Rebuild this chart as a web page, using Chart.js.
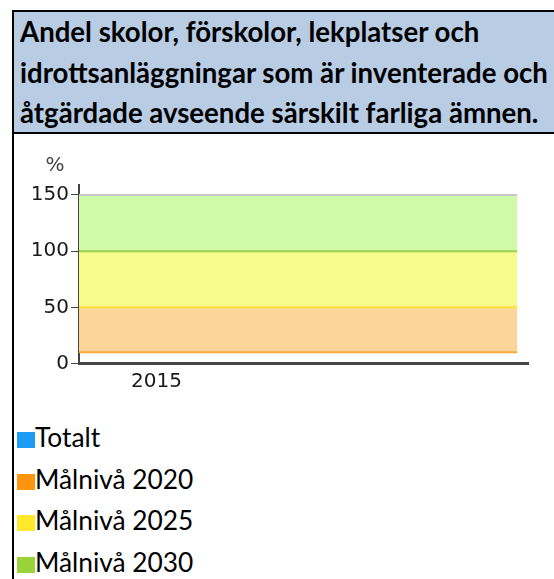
<!DOCTYPE html>
<html>
<head>
<meta charset="utf-8">
<script src="https://cdn.jsdelivr.net/npm/chart.js@4"></script>
<style>
  html, body { margin: 0; padding: 0; background: #fff; }
  body { width: 554px; height: 579px; position: relative; overflow: hidden; }
  #frame { position: absolute; left: 12px; top: 10px; width: 544px; height: 580px;
           border-left: 2px solid #000; border-top: 2px solid #000; }
  #title { position: absolute; left: 0; top: 0; width: 539px; height: 120px;
           background: #B8CCE4; border-bottom: 2px solid #000; border-right: 1px solid #333;
           font-family: Lato, sans-serif; font-weight: bold; font-size: 27.6px; line-height: 40.5px;
           padding: 0 0 0 6px; box-sizing: content-box; color: #000; }
  #title div { white-space: nowrap; }
  #chartBox { position: absolute; left: 0; top: 124px; width: 540px; height: 270px; }
  #legend { position: absolute; left: 3px; top: 405px; font-family: Lato, sans-serif; font-size: 26.3px; color: #000; }
  .li { height: 41.5px; line-height: 41.5px; white-space: nowrap; }
  .sw { display: inline-block; width: 18px; height: 16px; vertical-align: -1px; }
</style>
</head>
<body>
<div id="frame">
  <div id="title"></div>
  <div id="chartBox"><canvas id="c" width="540" height="270"></canvas></div>
  <div id="legend"></div>
</div>
<script>
const titleLines = ['Andel skolor, förskolor, lekplatser och', 'idrottsanläggningar som är inventerade och', 'åtgärdade avseende särskilt farliga ämnen.'];
const years = [2015];
const totalt = [];
const seriesNames = ['Totalt', 'Målnivå 2020', 'Målnivå 2025', 'Målnivå 2030'];
const legendColors = ['#1E9BF5', '#FF9410', '#FFE92A', '#9AD23A'];
const bandLow = 10;
const bandTops = [50, 100, 150];
const bandFills = ['#FDD59B', '#F5FC8C', '#CFFAA8'];
const bandLines = ['#F9A83A', '#FFE13A', '#9BD04F', '#C9C9C9'];
const bandYears = [2014.5, 2017.33];
const yTicks = [0, 50, 100, 150];
const yUnit = '%';

document.getElementById('title').innerHTML = titleLines.map(t => '<div>' + t + '</div>').join('');

const pts = v => bandYears.map(x => ({x: x, y: v}));
const datasets = [
  { label: seriesNames[0], data: totalt, borderColor: legendColors[0], backgroundColor: legendColors[0], pointRadius: 0 },
  { label: '_base', data: pts(bandLow), borderColor: bandLines[0], borderWidth: 2, pointRadius: 0, fill: false }
];
bandTops.forEach((v, i) => datasets.push({
  label: seriesNames[i + 1], data: pts(v), borderColor: bandLines[i + 1], borderWidth: 2,
  backgroundColor: bandFills[i], pointRadius: 0, fill: '-1'
}));

const unitPlugin = {
  id: 'unit',
  afterDraw(chart) {
    const ctx = chart.ctx, a = chart.chartArea;
    ctx.save();
    ctx.font = '20px "DejaVu Sans"';
    ctx.fillStyle = '#444';
    ctx.textAlign = 'center';
    ctx.textBaseline = 'middle';
    ctx.fillText(yUnit, a.left - 24, a.top - 19);
    ctx.restore();
  }
};

new Chart(document.getElementById('c'), {
  type: 'line',
  data: { datasets },
  options: {
    responsive: false,
    animation: false,
    events: [],
    layout: { padding: { top: 49, right: 26, left: 0, bottom: 0 } },
    plugins: { legend: { display: false }, tooltip: { enabled: false }, title: { display: false } },
    scales: {
      x: {
        type: 'linear', min: bandYears[0], max: 2017.4,
        afterBuildTicks: s => { s.ticks = years.map(v => ({ value: v })); },
        ticks: { callback: v => String(v), font: { family: 'DejaVu Sans', size: 20 }, color: '#1a1a1a', padding: 6, maxRotation: 0 },
        grid: { display: false, drawTicks: false },
        border: { display: true, color: '#444', width: 3 },
        afterFit: s => { s.height = 42.5; }
      },
      y: {
        min: 0, max: 158.9,
        afterBuildTicks: s => { s.ticks = yTicks.map(v => ({ value: v })); },
        ticks: { font: { family: 'DejaVu Sans', size: 20 }, color: '#1a1a1a', padding: 2 },
        grid: { drawOnChartArea: false, drawTicks: true, tickLength: 8, color: '#444' },
        border: { display: true, color: '#444', width: 2 },
        afterFit: s => { s.width = 65; }
      }
    }
  },
  plugins: [unitPlugin]
});

document.getElementById('legend').innerHTML = seriesNames.map((n, i) =>
  '<div class="li"><span class="sw" style="background:' + legendColors[i] + '"></span>' + n + '</div>').join('');
</script>
</body>
</html>
